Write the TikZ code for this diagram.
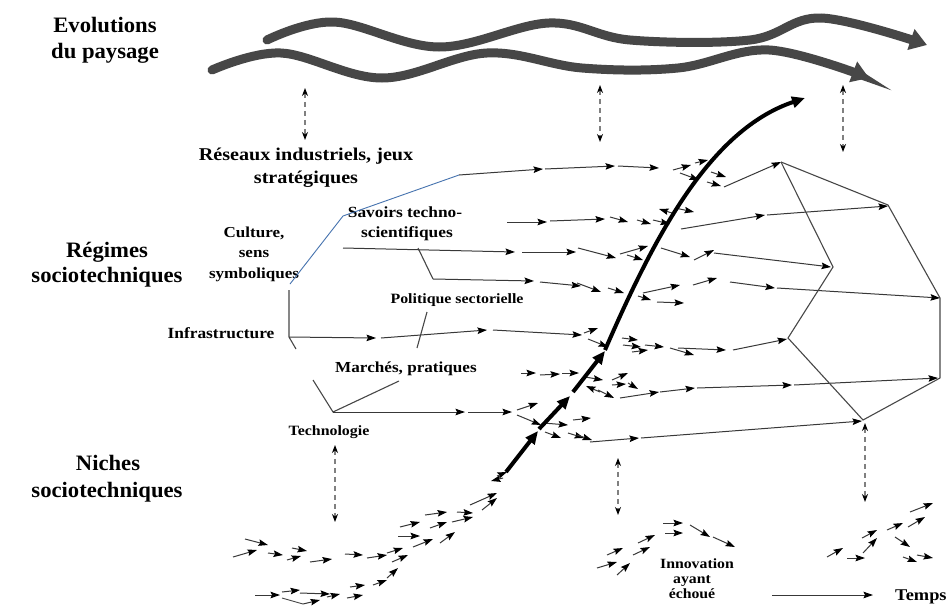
\documentclass[tikz,border=0pt]{standalone}
\usepackage{fontspec}
\setmainfont{Liberation Serif}
\newfontfamily\hfont{Liberation Serif}[FakeStretch=1.03]
\newfontfamily\lfont{Liberation Serif}[FakeStretch=1.12]
\usetikzlibrary{arrows.meta}
\definecolor{bl}{RGB}{70,115,175}
\newcommand{\myhead}{\hfont\bfseries\fontsize{22}{26}\selectfont}
\newcommand{\mylab}[1]{\lfont\bfseries\fontsize{#1}{#1}\selectfont}
\begin{document}
\begin{tikzpicture}[x=1pt,y=-1pt,
  lbl/.style={inner sep=0pt, anchor=base},
  sa/.style={draw=black!78, line width=1pt, -{Stealth[length=9.5pt,width=6.5pt,inset=1.5pt,color=black]}},
  ln/.style={draw=black!72, line width=1.1pt},
  dsh/.style={draw=black!50, line width=1.1pt, dash pattern=on 5pt off 4pt, {Stealth[length=8pt,width=6pt,color=black]}-{Stealth[length=8pt,width=6pt,color=black]}},
  thk/.style={line width=4pt, -{Triangle[length=13pt,width=11pt]}},
  wave/.style={draw=black!72, line width=9pt, line cap=round, -{Triangle[length=17pt,width=21pt]}}]
\useasboundingbox (0,0) rectangle (949,608);
\fill[white] (0,0) rectangle (949,608);

% landscape waves
\draw[wave] plot[smooth, tension=0.6] coordinates {(267,40) (334,22) (439,47) (549,23) (630,40) (750,40) (821,18) (927,45)};
\draw[wave] plot[smooth, tension=0.6] coordinates {(212,70) (281,53) (382,78) (487,53) (582,68) (678,68) (769,50) (869,78)};

% dashed interactions
\draw[dsh] (305,88) -- (305,140);
\draw[dsh] (600,85) -- (600,142);
\draw[dsh] (843,85) -- (843,152);
\draw[dsh] (335,445) -- (335,522);
\draw[dsh] (618,458) -- (618,515);
\draw[dsh] (865,423) -- (865,502);

% headings
\node[lbl,font=\myhead] (ev1) at (105,32) {Evolutions};
\node[lbl,font=\myhead] (ev2) at (105,58) {du paysage};
\node[lbl,font=\myhead] (rg1) at (107,257) {Régimes};
\node[lbl,font=\myhead] (rg2) at (107,282) {sociotechniques};
\node[lbl,font=\myhead] (ni1) at (108,470) {Niches};
\node[lbl,font=\myhead] (ni2) at (107,497) {sociotechniques};

% labels
\node[lbl,font=\mylab{18}] (re1) at (306,160) {Réseaux industriels, jeux};
\node[lbl,font=\mylab{18}] (re2) at (306,183) {stratégiques};
\node[lbl,font=\mylab{15.2}] (cu1) at (254,237) {Culture,};
\node[lbl,font=\mylab{15.2}] (cu2) at (254,257) {sens};
\node[lbl,font=\mylab{15.2}] (cu3) at (254,278) {symboliques};
\node[lbl,font=\mylab{15.5}] (sv1) at (405,217) {Savoirs techno-};
\node[lbl,font=\mylab{15.5}] (sv2) at (407,237) {scientifiques};
\node[lbl,font=\mylab{14.2}] (po) at (457,303) {Politique sectorielle};
\node[lbl,font=\mylab{15.5}] (in) at (221,338) {Infrastructure};
\node[lbl,font=\mylab{15.3}] (ma) at (406,372) {Marchés, pratiques};
\node[lbl,font=\mylab{14.2}] (te) at (329,435) {Technologie};
\node[lbl,font=\mylab{14.1}] (iv1) at (697,568) {Innovation};
\node[lbl,font=\mylab{14.1}] (iv2) at (692,583) {ayant};
\node[lbl,font=\mylab{14.1}] (iv3) at (692,598) {échoué};
\node[lbl,font=\mylab{16.4},anchor=base west] (tp) at (895,600) {Temps};

% left structural lines
\draw[ln] (289,290) -- (289,337) -- (296,349);
\draw[ln] (427,312) -- (417,348);
\draw[ln] (313,380) -- (333,412) -- (399,381);
\draw[ln] (418,248) -- (433,279);
\draw[bl, line width=0.9pt] (290,284) -- (343,216) -- (459,175);

% row Reseaux
\draw[sa] (459,175) -- (543,169);
\draw[sa] (545,169) -- (615,166);
\draw[sa] (618,166) -- (659,168);
\draw[sa] (673,170) -- (691,165);
\draw[sa] (695,163) -- (708,160);
\draw[sa] (680,173) -- (699,180);
\draw[sa] (707,182) -- (721,186);
\draw[sa] (711,172) -- (726,177);
\draw[sa] (724,187) -- (781,162);

% row Savoirs top
\draw[sa] (507,222) -- (547,222);
\draw[sa] (550,221) -- (605,219);
\draw[sa] (610,217) -- (628,222);
\draw[sa] (637,220) -- (651,224);
\draw[sa] (653,220) -- (670,224);
\draw[sa] (672,213) -- (659,209);
\draw[sa] (675,208) -- (694,212);
\draw[sa] (681,229) -- (765,215);
\draw[sa] (767,215) -- (888,206);

% row Savoirs middle
\draw[sa] (343,248) -- (515,252);
\draw[sa] (522,252) -- (576,252);
\draw[sa] (578,248) -- (616,258);
\draw[sa] (620,254) -- (648,246);
\draw[sa] (627,255) -- (643,260);
\draw[sa] (661,248) -- (690,257);
\draw[sa] (694,260) -- (714,250);
\draw[sa] (714,253) -- (831,267);

% row branch
\draw[sa] (433,279) -- (534,281);
\draw[sa] (540,282) -- (581,286);
\draw[sa] (577,283) -- (601,292);
\draw[sa] (608,288) -- (624,293);
\draw[sa] (643,293) -- (680,285);
\draw[sa] (693,285) -- (717,278);
\draw[sa] (638,296) -- (651,300);
\draw[sa] (657,302) -- (684,303);
\draw[sa] (730,282) -- (775,288);
\draw[sa] (777,288) -- (940,298);

% row Infrastructure
\draw[sa] (289,337) -- (376,338);
\draw[sa] (381,338) -- (487,330);
\draw[sa] (493,330) -- (582,335);
\draw[sa] (584,333) -- (598,328);
\draw[sa] (588,339) -- (608,347);
\draw[sa] (622,338) -- (638,340);
\draw[sa] (623,345) -- (641,347);
\draw[sa] (632,352) -- (648,350);
\draw[sa] (645,345) -- (664,347);
\draw[sa] (670,348) -- (694,355);
\draw[sa] (678,348) -- (726,350);
\draw[sa] (733,350) -- (787,339);

% row middle (y 373)
\draw[sa] (521,373) -- (536,373);
\draw[sa] (540,375) -- (560,374);
\draw[sa] (562,373) -- (579,373);
\draw[sa] (585,377) -- (603,380);
\draw[sa] (600,392) -- (586,386);
\draw[sa] (598,390) -- (614,398);
\draw[sa] (612,380) -- (628,373);
\draw[sa] (612,385) -- (626,384);
\draw[sa] (628,383) -- (638,389);
\draw[sa] (620,398) -- (659,392);
\draw[sa] (660,392) -- (695,388);
\draw[sa] (697,388) -- (792,385);
\draw[sa] (794,385) -- (938,378);

% row Marches
\draw[sa] (333,412) -- (465,412);
\draw[sa] (468,412) -- (512,412);
\draw[sa] (517,410) -- (538,403);
\draw[sa] (517,415) -- (541,425);
\draw[sa] (543,423) -- (568,425);
\draw[sa] (573,420) -- (591,418);
\draw[sa] (545,432) -- (561,438);
\draw[sa] (568,433) -- (584,438);
\draw[sa] (577,435) -- (592,440);
\draw[sa] (590,442) -- (639,438);
\draw[sa] (641,438) -- (862,421);

% new regime polygon
\draw[ln] (781,162) -- (888,205) -- (940,298) -- (940,378);
\draw[ln] (781,162) -- (833,267) -- (788,338) -- (863,420) -- (940,378);

% thick trajectory
\draw[thk] (506,472) -- (538,431);
\draw[thk] (539,429) -- (570,396);
\draw[thk] (573,392) -- (605,351);
\draw[thk] (605,350) .. controls (655,235) and (710,130) .. (805,98);

% niche cluster left
\draw[sa] (245,539) -- (268,545);
\draw[sa] (233,557) -- (257,550);
\draw[sa] (268,553) -- (283,555);
\draw[sa] (292,548) -- (307,551);
\draw[sa] (287,560) -- (301,556);
\draw[sa] (310,562) -- (332,559);
\draw[sa] (345,554) -- (363,555);
\draw[sa] (367,558) -- (387,555);
\draw[sa] (387,553) -- (403,548);
\draw[sa] (392,562) -- (408,555);
\draw[sa] (400,527) -- (420,522);
\draw[sa] (398,536) -- (420,536);
\draw[sa] (413,547) -- (433,539);
\draw[sa] (430,528) -- (447,522);
\draw[sa] (425,515) -- (447,512);
\draw[sa] (440,543) -- (455,532);
\draw[sa] (452,522) -- (473,517);
\draw[sa] (457,512) -- (473,513);
\draw[sa] (470,505) -- (497,493);
\draw[sa] (482,510) -- (497,498);
\draw[sa] (503,478) -- (491,481);
\draw[sa] (497,476) -- (507,472);
\draw[sa] (255,595) -- (280,595);
\draw[sa] (282,592) -- (300,590);
\draw[ln,line width=0.9pt] (282,598) -- (303,604);
\draw[sa] (303,604) -- (320,600);
\draw[sa] (300,593) -- (330,594);
\draw[sa] (327,597) -- (340,594);
\draw[sa] (347,598) -- (363,595);
\draw[sa] (350,587) -- (365,585);
\draw[sa] (373,585) -- (387,580);
\draw[sa] (387,578) -- (398,568);

% failed innovation
\draw[sa] (597,568) -- (617,562);
\draw[sa] (607,555) -- (623,548);
\draw[sa] (617,575) -- (630,563);
\draw[sa] (633,555) -- (650,547);
\draw[sa] (638,543) -- (655,535);
\draw[sa] (663,523) -- (683,523);
\draw[sa] (665,533) -- (683,533);
\draw[sa] (690,525) -- (710,537);
\draw[sa] (713,537) -- (735,547);

% right cluster
\draw[sa] (827,557) -- (843,548);
\draw[sa] (847,558) -- (865,558);
\draw[sa] (862,538) -- (877,530);
\draw[sa] (863,553) -- (877,538);
\draw[sa] (887,530) -- (903,523);
\draw[sa] (910,512) -- (933,503);
\draw[sa] (908,527) -- (925,517);
\draw[sa] (895,537) -- (910,547);
\draw[sa] (903,557) -- (917,562);
\draw[sa] (917,555) -- (933,558);

% time arrow
\coordinate (t0) at (772,595);
\coordinate (t1) at (873,595);
\draw[sa] (t0) -- (t1);
\end{tikzpicture}
\end{document}
